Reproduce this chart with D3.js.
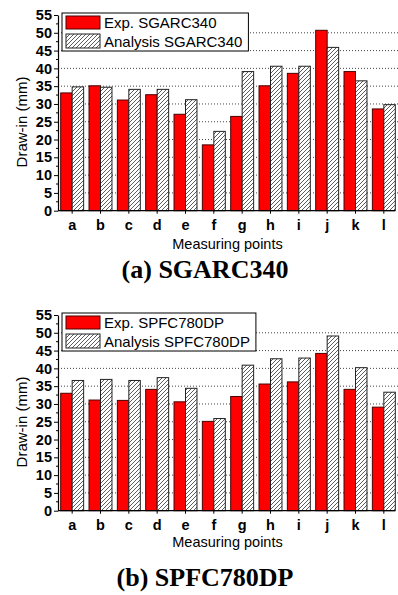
<!DOCTYPE html>
<html>
<head>
<meta charset="utf-8">
<script src="https://cdn.jsdelivr.net/npm/d3@7"></script>
<style>
  body { margin: 0; background: #fff; }
  svg { display: block; }
</style>
</head>
<body>
<div id="chart-container"></div>
<script>
// measuring points on the x axis
const points = ["a", "b", "c", "d", "e", "f", "g", "h", "i", "j", "k", "l"];
const yTicks = [0, 5, 10, 15, 20, 25, 30, 35, 40, 45, 50, 55];
const gridValues = [5, 10, 15, 20, 25, 30, 35, 40, 45, 50];

// (a) SGARC340
const expSGARC = [33.1, 35.1, 31.1, 32.6, 27.1, 18.5, 26.5, 35.1, 38.6, 50.7, 39.1, 28.6];
const anaSGARC = [34.8, 34.7, 34.1, 34.1, 31.2, 22.3, 39.1, 40.6, 40.6, 45.9, 36.5, 29.8];

// (b) SPFC780DP
const expSPFC = [33.0, 31.1, 31.0, 34.1, 30.6, 25.1, 32.1, 35.6, 36.2, 44.2, 34.1, 29.1];
const anaSPFC = [36.6, 36.9, 36.6, 37.4, 34.4, 25.9, 40.9, 42.7, 42.9, 49.1, 40.2, 33.3];

const W = 398, H = 595;
const sansFont = "'Liberation Sans', Arial, sans-serif";
const serifFont = "'Liberation Serif', 'Times New Roman', serif";

const svg = d3.select("#chart-container")
  .append("svg")
    .attr("width", W)
    .attr("height", H);

// hatch pattern for the analysis bars
const defs = svg.append("defs");
const pat = defs.append("pattern")
    .attr("id", "hatch")
    .attr("patternUnits", "userSpaceOnUse")
    .attr("width", 4)
    .attr("height", 4);
pat.append("rect").attr("width", 4).attr("height", 4).attr("fill", "#fff");
pat.append("path")
    .attr("d", "M-1,1 l2,-2 M0,4 l4,-4 M3,5 l2,-2")
    .attr("stroke", "#333")
    .attr("stroke-width", 0.8);

function drawChart(top, expVals, anaVals, expLabel, anaLabel, caption, axisTitleY, captionY) {
  const g = svg.append("g").attr("transform", "translate(0," + top + ")");

  const x = d3.scaleBand()
    .domain(points)
    .range([58, 398])
    .paddingInner(0.19)
    .paddingOuter(0.095);
  const xs = d3.scaleBand()
    .domain(["exp", "ana"])
    .range([0, x.bandwidth()]);
  const y = d3.scaleLinear()
    .domain([0, 55])
    .range([210.7, 15]);

  // dotted grid
  g.append("g").selectAll("line")
    .data(gridValues)
    .enter().append("line")
      .attr("x1", 58).attr("x2", 398)
      .attr("y1", d => y(d)).attr("y2", d => y(d))
      .attr("stroke", "#444")
      .attr("stroke-width", 1)
      .attr("stroke-dasharray", "1,2");

  const rows = points.map((p, i) => ({ p: p, exp: expVals[i], ana: anaVals[i] }));

  g.append("g").selectAll("rect")
    .data(rows)
    .enter().append("rect")
      .attr("x", d => x(d.p) + xs("exp"))
      .attr("y", d => y(d.exp))
      .attr("width", xs.bandwidth())
      .attr("height", d => y(0) - y(d.exp))
      .attr("fill", "#ff0000")
      .attr("stroke", "#4a0000")
      .attr("stroke-width", 1);

  g.append("g").selectAll("rect")
    .data(rows)
    .enter().append("rect")
      .attr("x", d => x(d.p) + xs("ana"))
      .attr("y", d => y(d.ana))
      .attr("width", xs.bandwidth())
      .attr("height", d => y(0) - y(d.ana))
      .attr("fill", "url(#hatch)")
      .attr("stroke", "#222")
      .attr("stroke-width", 1);

  // x axis
  const xAxis = g.append("g")
    .attr("transform", "translate(0," + y(0) + ")")
    .call(d3.axisBottom(x).tickSize(3).tickSizeOuter(0).tickPadding(6));
  xAxis.select(".domain").attr("d", "M58,0H395").attr("stroke", "#000").attr("stroke-width", 1.2);
  xAxis.selectAll("text")
    .attr("font-family", sansFont)
    .attr("font-weight", "bold")
    .attr("font-size", 14.5)
    .attr("fill", "#000");

  // y axis
  const yAxis = g.append("g")
    .attr("transform", "translate(58,0)")
    .call(d3.axisLeft(y).tickValues(yTicks).tickSize(4).tickSizeOuter(0).tickPadding(2));
  yAxis.select(".domain").attr("stroke", "#000").attr("stroke-width", 1.2);
  yAxis.selectAll("text")
    .attr("font-family", sansFont)
    .attr("font-weight", "bold")
    .attr("font-size", 14.5)
    .attr("fill", "#000");
  yAxis.append("g").selectAll("line")
    .data(yTicks.slice(0, -1).map(v => v + 2.5))
    .enter().append("line")
      .attr("x1", -2).attr("x2", 0)
      .attr("y1", d => y(d)).attr("y2", d => y(d))
      .attr("stroke", "#000");

  // axis titles
  g.append("text")
    .attr("transform", "translate(27,122) rotate(-90)")
    .attr("text-anchor", "middle")
    .attr("font-family", sansFont)
    .attr("font-size", 15)
    .text("Draw-in (mm)");
  g.append("text")
    .attr("x", 227.5)
    .attr("y", axisTitleY)
    .attr("text-anchor", "middle")
    .attr("font-family", sansFont)
    .attr("font-size", 14.5)
    .text("Measuring points");

  g.append("text")
    .attr("x", 205)
    .attr("y", captionY)
    .attr("text-anchor", "middle")
    .attr("font-family", serifFont)
    .attr("font-weight", "bold")
    .attr("font-size", 26)
    .text(caption);

  // legend
  const leg = g.append("g");
  const box = leg.append("rect")
    .attr("x", 62).attr("y", 13)
    .attr("height", 38)
    .attr("fill", "#fff")
    .attr("stroke", "#000")
    .attr("stroke-width", 1);
  leg.append("rect")
    .attr("x", 66).attr("y", 16).attr("width", 34).attr("height", 13)
    .attr("fill", "#ff0000").attr("stroke", "#4a0000");
  leg.append("rect")
    .attr("x", 66).attr("y", 34).attr("width", 34).attr("height", 14)
    .attr("fill", "url(#hatch)").attr("stroke", "#222");
  const t1 = leg.append("text")
    .attr("x", 104).attr("y", 28)
    .attr("font-family", sansFont).attr("font-size", 15)
    .text(expLabel);
  const t2 = leg.append("text")
    .attr("x", 104).attr("y", 46.5)
    .attr("font-family", sansFont).attr("font-size", 15)
    .text(anaLabel);
  const right = Math.max(t1.node().getComputedTextLength(), t2.node().getComputedTextLength()) + 104 + 6;
  box.attr("width", right - 62);
}

drawChart(0, expSGARC, anaSGARC, "Exp. SGARC340", "Analysis SGARC340", "(a) SGARC340", 249, 278);
drawChart(300, expSPFC, anaSPFC, "Exp. SPFC780DP", "Analysis SPFC780DP", "(b) SPFC780DP", 247, 286);
</script>
</body>
</html>
